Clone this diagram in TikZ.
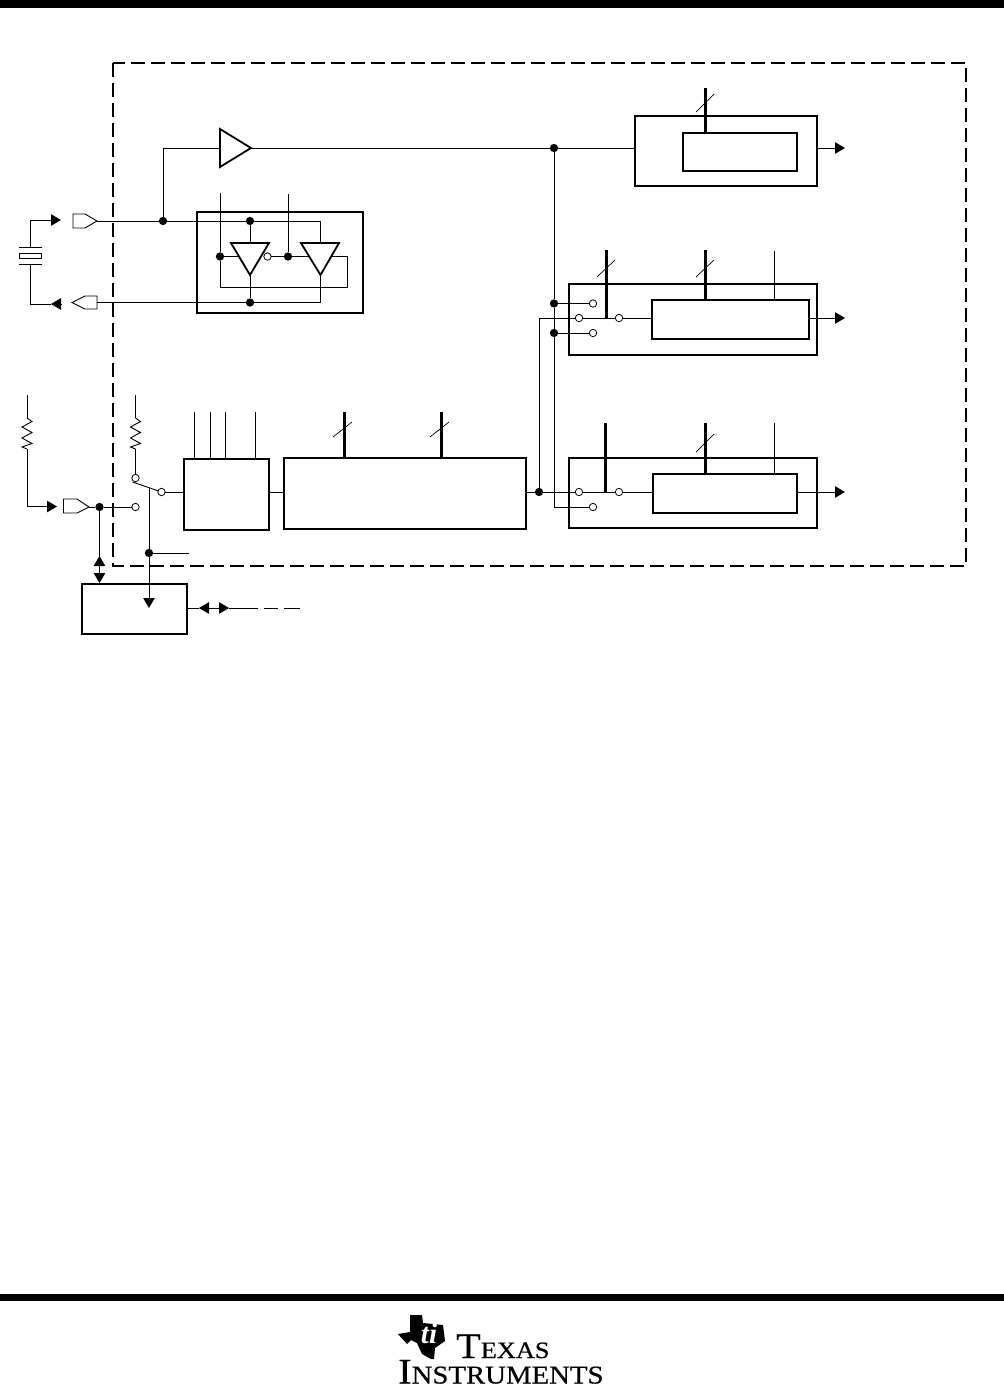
\documentclass[tikz,border=0pt]{standalone}
\usepackage{fontspec}
\setmainfont{Liberation Serif}
\newfontfamily\logofont[FakeStretch=1.12,FakeBold=0.5]{Liberation Serif}
\usetikzlibrary{arrows.meta,calc}
\tikzstyle{block} = [rectangle, draw=black, line width=1.9pt, inner sep=0pt, outer sep=0pt]
\tikzstyle{dot} = [circle, fill=black, inner sep=0pt, outer sep=0pt, minimum size=8.3pt]
\tikzstyle{tap} = [circle, draw=black, fill=white, line width=0.8pt, inner sep=0pt, outer sep=0pt, minimum size=7.4pt]
\tikzstyle{wire} = [line width=0.9pt]
\tikzstyle{bus} = [line width=2.8pt]
\tikzstyle{tick} = [line width=0.7pt]
\tikzstyle{arrow} = [line width=0.9pt, -{Triangle[length=10pt,width=11.5pt]}]
\tikzstyle{gate} = [line width=1.8pt, line join=miter]
\tikzset{resistor/.pic={\draw [wire] (0,0) -- (5,3.5) -- (-5,9) -- (5,14.5) -- (-5,20) -- (5,25.5) -- (-5,29) -- (0,31);}}

\begin{document}
\begin{tikzpicture}[x=1pt,y=-1pt]
\useasboundingbox (0,0) rectangle (1004,1385);

% BALKEN OBEN / UNTEN
\fill (0,0) rectangle (1004,8);
\fill (0,1294) rectangle (1004,1301);

% GERAETEGRENZE
\draw [line width=1.9pt, dash pattern=on 14pt off 6pt] (113,63) rectangle (966,566);

% BLOECKE
\node (refbox) [block, minimum width=182pt, minimum height=70pt] at (726,151) {};
\node (refcount) [block, minimum width=114pt, minimum height=38pt] at (740,152) {};
\node (oscbox) [block, minimum width=166pt, minimum height=101pt] at (280,262.5) {};
\node (ch1box) [block, minimum width=248pt, minimum height=71pt] at (693,319.5) {};
\node (ch1count) [block, minimum width=157pt, minimum height=39pt] at (730.5,319.5) {};
\node (ch2box) [block, minimum width=248pt, minimum height=70pt] at (693,493) {};
\node (ch2count) [block, minimum width=144pt, minimum height=39pt] at (725,493.5) {};
\node (divider) [block, minimum width=242pt, minimum height=71pt] at (405,493.5) {};
\node (select) [block, minimum width=85pt, minimum height=71pt] at (226.5,494.5) {};
\node (extbox) [block, minimum width=105pt, minimum height=50pt] at (134.5,609) {};

% QUARZ
\coordinate (xtaltop) at (30.5,247);
\coordinate (xtalbot) at (30.5,264);
\draw [wire] (19,247) -- (42,247);
\draw [wire] (19,264) -- (42,264);
\draw [wire] (19.5,253) rectangle (41.5,258);
\coordinate (xinbend) at (30.5,220);
\coordinate (xintip) at (61,220);
\coordinate (xoutbend) at (30.5,304);
\coordinate (xouttip) at (51,304);
\coordinate (xoutbase) at (61,304);
\draw [wire] (xtaltop) -- (xinbend);
\draw [arrow] (xinbend) -- (xintip);
\draw [wire] (xtalbot) -- (xoutbend) -- (xouttip);
\draw [arrow] (xoutbase) -- (xouttip);

% PADS
\coordinate (xinpad) at (97,221);
\coordinate (xoutpad) at (97,302.5);
\coordinate (clkpad) at (89,507);
\draw [wire] (xinpad) -- (85,214) -- (73,214) -- (73,228) -- (85,228) -- cycle;
\draw [wire] (xoutpad |- 0,296) -- (85,296) -- (72,302.5) -- (85,309) -- (xoutpad |- 0,309) -- cycle;
\draw [wire] (clkpad) -- (77,499) -- (63.5,499) -- (63.5,513) -- (77,513) -- cycle;

% OSZILLATOR
\draw [gate] (231,243) -- (269,243) -- (250,275) -- cycle;
\draw [gate] (301,243) -- (339,243) -- (320.5,275) -- cycle;
\coordinate (gateA) at (250,243);
\coordinate (gateAo) at (250,275);
\coordinate (gateB) at (320.5,243);
\coordinate (gateBo) at (320.5,275);
\coordinate (gateAl) at (239,256.5);
\coordinate (gateBl) at (309,256.5);
\coordinate (gateBr) at (332,256.5);
\node (osctop) [dot] at (250,221) {};
\node (oscbot) [dot] at (250,302.5) {};
\node (gateinv) [tap] at (267.5,256.5) {};
\node (enA) [dot] at (220,256.5) {};
\node (enB) [dot] at (288,256.5) {};
\node (xindot) [dot] at (163,221) {};
\coordinate (enAin) at (220,193);
\coordinate (enBin) at (288,194);
\coordinate (fbleft) at (220,287);
\coordinate (fbright) at (347,287);
\draw [wire] (xinpad) -- (xindot) -- (osctop) -| (gateB);
\draw [wire] (osctop) -- (gateA);
\draw [wire] (xoutpad) -- (oscbot) -| (gateBo);
\draw [wire] (oscbot) -- (gateAo);
\draw [wire] (enAin) -- (enA) -- (fbleft) -- (fbright) |- (gateBr);
\draw [wire] (enA) -- (gateAl);
\draw [wire] (enBin) -- (enB);
\draw [wire] (gateinv) -- (enB) -- (gateBl);

% PUFFER OBEN
\draw [gate] (220,129) -- (220,167) -- (251,148) -- cycle;
\coordinate (bufin) at (220,148);
\coordinate (bufout) at (251,148);
\node (refdot) [dot] at (554,148) {};
\draw [wire] (xindot) |- (bufin);
\draw [wire] (bufout) -- (refdot) -- (refdot -| refbox.west);

% ZAEHLER OBEN
\coordinate (refbus) at (705.6,88);
\coordinate (reftip) at (845,148);
\draw [bus] (refbus) -- (refbus |- refcount.north);
\draw [tick] (696,112) -- (714,94);
\draw [arrow] (refbox.east |- refdot) -- (reftip);

% TAKTWAHL
\coordinate (rin) at (27,395);
\coordinate (rinz) at (27,418);
\coordinate (rinb) at (27,449);
\coordinate (rinbend) at (27,506.5);
\coordinate (clktip) at (57,506.5);
\pic at (rinz) {resistor};
\draw [wire] (rin) -- (rinz);
\draw [wire] (rinb) -- (rinbend);
\draw [arrow] (rinbend) -- (clktip);
\coordinate (rsw) at (135.5,395);
\coordinate (rswz) at (135.5,418);
\coordinate (rswb) at (135.5,449);
\pic at (rswz) {resistor};
\node (swup) [tap] at (135.5,478) {};
\node (swdown) [tap] at (135.5,507) {};
\node (swout) [tap] at (161.5,492) {};
\node (clkdot) [dot] at (99.5,507) {};
\node (seldot) [dot] at (149,553) {};
\coordinate (armleft) at (132.5,482);
\coordinate (armtap) at (149,488);
\coordinate (selstub) at (189,553);
\coordinate (seltip) at (149,608);
\draw [wire] (rsw) -- (rswz);
\draw [wire] (rswb) -- (swup);
\draw [wire] (clkpad) -- (clkdot) -- (swdown);
\draw [wire] (armleft) -- (swout);
\draw [wire] (swout) -- (select.west |- swout);
\draw [wire] (armtap) -- (seldot) -- (selstub);
\draw [arrow] (seldot) -- (seltip);
\draw [wire] (select.east |- swout) -- (divider.west |- swout);

% ANSCHLUESSE UEBER SELECT
\foreach \px/\pn in {194/a,210/b,225/c,255/d} {
  \coordinate (sel\pn) at (\px,412);
  \draw [wire] (sel\pn) -- (sel\pn |- select.north);
}

% TEILER
\coordinate (divbusA) at (344.4,412);
\coordinate (divbusB) at (441.4,412);
\draw [bus] (divbusA) -- (divbusA |- divider.north);
\draw [bus] (divbusB) -- (divbusB |- divider.north);
\draw [tick] (333,437) -- (352,422);
\draw [tick] (430,437) -- (449,422);

% EXTERNER BLOCK
\coordinate (extmid) at (99.5,569);
\coordinate (extup) at (99.5,556);
\coordinate (extdown) at (99.5,583);
\draw [wire] (clkdot) -- (extup);
\draw [arrow] (extmid) -- (extup);
\draw [arrow] (extmid) -- (extdown);
\coordinate (linkmid) at (214,608);
\coordinate (linkleft) at (199,608);
\coordinate (linkright) at (229,608);
\coordinate (linkend) at (258,608);
\draw [wire] (extbox.east |- linkmid) -- (linkleft);
\draw [arrow] (linkmid) -- (linkleft);
\draw [arrow] (linkmid) -- (linkright);
\draw [wire] (linkright) -- (linkend);
\draw [wire] (264,608) -- (278,608);
\draw [wire] (284,608) -- (300,608);

% KANAL 1
\node (ch1a) [tap] at (593,303.5) {};
\node (ch1b) [tap] at (579,318) {};
\node (ch1c) [tap] at (593,333) {};
\node (ch1d) [tap] at (619,318) {};
\node (ch1dota) [dot] at (554,303.5) {};
\node (ch1dotb) [dot] at (554,333) {};
\node (divdot) [dot] at (539,492) {};
\coordinate (ch1busA) at (606.4,250);
\coordinate (ch1busB) at (705.4,250);
\coordinate (ch1line) at (774,251);
\coordinate (ch1tip) at (845,318);
\draw [wire] (refdot) -- (ch1dota) -- (ch1a);
\draw [wire] (ch1dota) -- (ch1dotb) -- (ch1c);
\draw [wire] (divdot) |- (ch1b);
\draw [wire] (ch1b) -- (ch1d);
\draw [wire] (ch1d) -- (ch1count.west |- ch1d);
\draw [bus] (ch1busA) -- (ch1busA |- ch1b);
\draw [bus] (ch1busB) -- (ch1busB |- ch1count.north);
\draw [wire] (ch1line) -- (ch1line |- ch1count.north);
\draw [tick] (597,277) -- (615,260);
\draw [tick] (696,277) -- (714,260);
\draw [arrow] (ch1count.east |- ch1d) -- (ch1tip);

% KANAL 2
\node (ch2a) [tap] at (579,492) {};
\node (ch2b) [tap] at (619,492) {};
\node (ch2c) [tap] at (593,507) {};
\coordinate (ch2busA) at (605.5,423);
\coordinate (ch2busB) at (705.4,423);
\coordinate (ch2line) at (774,423);
\coordinate (ch2tip) at (845,492);
\draw [wire] (ch1dotb) |- (ch2c);
\draw [wire] (divider.east |- divdot) -- (divdot) -- (ch2a);
\draw [wire] (ch2a) -- (ch2b);
\draw [wire] (ch2b) -- (ch2count.west |- ch2b);
\draw [bus] (ch2busA) -- (ch2busA |- ch2a);
\draw [bus] (ch2busB) -- (ch2busB |- ch2count.north);
\draw [wire] (ch2line) -- (ch2line |- ch2count.north);
\draw [tick] (696,452) -- (714,434);
\draw [arrow] (ch2count.east |- ch2b) -- (ch2tip);

% LOGO
\fill (410,1315) -- (422,1315) -- (423,1323) -- (443,1325) -- (445,1341) -- (435,1348) -- (434,1359) -- (431,1359) -- (422,1354) -- (417,1343) -- (411,1340) -- (407,1344) -- (398,1334) -- (410,1332) -- cycle;
\node (logoti) [font=\fontsize{29}{29}\selectfont\bfseries\itshape, text=white, inner sep=0pt] at (429,1334) {ti};
\node (logotexas) [anchor=base west, inner sep=0pt, font=\logofont\fontsize{36}{36}\selectfont] at (456,1358) {T\fontsize{23.5}{23.5}\selectfont EXAS};
\node (logoinst) [anchor=base west, inner sep=0pt, font=\logofont\fontsize{36}{36}\selectfont] at (398,1383.5) {I\fontsize{25.7}{25.7}\selectfont NSTRUMENTS};

\end{tikzpicture}
\end{document}
